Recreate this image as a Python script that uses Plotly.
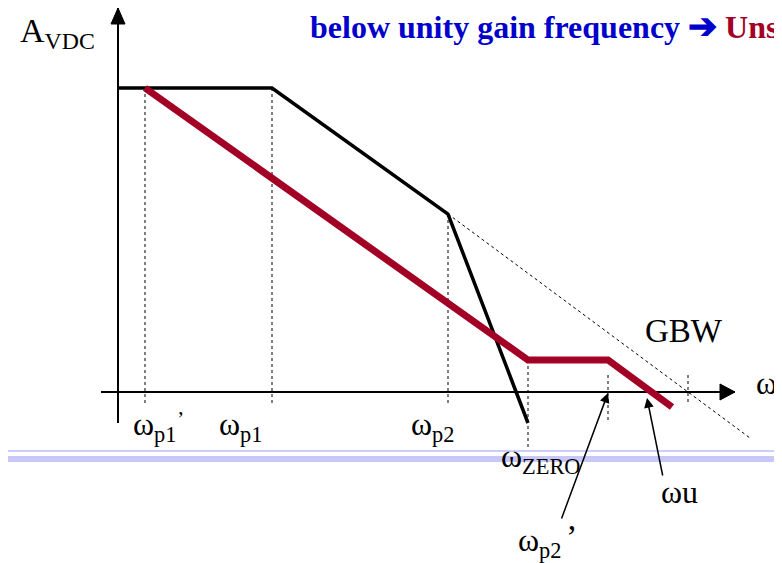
import plotly.graph_objects as go

# ---- diagram coordinates: origin at axes crossing, ω to the right, gain upward ----
# break frequencies along the ω axis
freq_names = ["wp1'", "wp1", "wp2", "wzero", "wp2'", "gbw"]
freq_pos = [27, 154, 330, 410, 490, 570]
# dotted drop lines (top gain, bottom gain) for each break frequency
drop_top = [304, 304, 178, 32, 17, 17]
drop_bot = [-13, -13, -13, -60, -28, -13]

# original (uncompensated) response - black
orig_w = [0, 154, 330, 410]
orig_gain = [304, 304, 178, -31]

# compensated response with RHP zero - red
comp_w = [27, 410, 490, 554]
comp_gain = [304, 32, 32, -15]

# GBW asymptote - dotted
gbw_w = [330, 632]
gbw_gain = [178, -46]

# axes extents
x_axis_span = [-17, 617]
y_axis_span = [-31, 384]

# page body has an 8px margin: figure is 774x555 and ranges are offset so that
# the diagram lands where the reference puts it
X_RANGE = [-110, 664]
Y_RANGE = [-171, 384]

BLACK = "#000000"
RED = "#A30026"
BLUE = "#0000CC"
LAV = "#CCCCFF"
SERIF = "Liberation Serif, Times New Roman, serif"

fig = go.Figure()

# separator lines (slide decoration)
fig.add_shape(type="line", xref="paper", x0=0, x1=1, yref="y", y0=-59, y1=-59,
              line=dict(color=LAV, width=2))
fig.add_shape(type="line", xref="paper", x0=0, x1=1, yref="y", y0=-67, y1=-67,
              line=dict(color="#C8C8F8", width=6))

# dotted drop lines
dx, dy = [], []
for p, t, b in zip(freq_pos, drop_top, drop_bot):
    dx += [p, p, None]
    dy += [t, b, None]
fig.add_trace(go.Scatter(x=dx, y=dy, mode="lines",
                         line=dict(color=BLACK, width=1, dash="dot"), hoverinfo="skip"))
# GBW asymptote
fig.add_trace(go.Scatter(x=gbw_w, y=gbw_gain, mode="lines",
                         line=dict(color=BLACK, width=1, dash="dot"), hoverinfo="skip"))

# axes
fig.add_trace(go.Scatter(x=x_axis_span, y=[0, 0], mode="lines",
                         line=dict(color=BLACK, width=2), hoverinfo="skip"))
fig.add_trace(go.Scatter(x=[0, 0], y=y_axis_span, mode="lines",
                         line=dict(color=BLACK, width=2), hoverinfo="skip"))
# arrow heads
xt = x_axis_span[1]
fig.add_trace(go.Scatter(x=[xt, xt - 15, xt - 15, xt], y=[0, 8, -8, 0], mode="lines",
                         fill="toself", fillcolor=BLACK, line=dict(color=BLACK, width=1),
                         hoverinfo="skip"))
yt = y_axis_span[1]
fig.add_trace(go.Scatter(x=[0, -7, 7, 0], y=[yt, yt - 16, yt - 16, yt], mode="lines",
                         fill="toself", fillcolor=BLACK, line=dict(color=BLACK, width=1),
                         hoverinfo="skip"))

# original response
fig.add_trace(go.Scatter(x=orig_w, y=orig_gain, mode="lines",
                         line=dict(color=BLACK, width=3.5), hoverinfo="skip"))
# compensated response
fig.add_trace(go.Scatter(x=comp_w, y=comp_gain, mode="lines",
                         line=dict(color=RED, width=7), hoverinfo="skip"))

ann = []
def txt(x, y, s, size=32, xa="left", ya="middle", color=BLACK):
    ann.append(dict(x=x, y=y, xref="x", yref="y", text=s, showarrow=False,
                    xanchor=xa, yanchor=ya,
                    font=dict(family=SERIF, size=size, color=color)))

txt(-100, 359, "A<sub>VDC</sub>", size=34)
txt(190, 366, "<b>below unity gain frequency <span style='color:%s;font-size:35px'>➔</span>"
              " <span style='color:%s'>Unstable</span></b>" % (BLUE, RED),
    size=32, color=BLUE)
txt(566, 61, "GBW", size=33, xa="center")
txt(636, 9, "ω", size=32)
txt(13, -12, "ω<sub>p1</sub>", size=32, ya="top")
txt(62, -12, "’", size=22, xa="center", ya="top")
txt(99, -12, "ω<sub>p1</sub>", size=32, ya="top")
txt(291, -12, "ω<sub>p2</sub>", size=32, ya="top")
txt(381, -44, "ω<sub>ZERO</sub>", size=32, ya="top")
txt(541, -80, "ωu", size=32, ya="top")
txt(398, -128, "ω<sub>p2</sub>", size=32, ya="top")
txt(453, -124, "’", size=34, xa="center", ya="top")

# pointer arrows
for tip, tail in [((490, -1), (443, -128)), ((529, -6), (545, -85))]:
    ann.append(dict(x=tip[0], y=tip[1], ax=tail[0], ay=tail[1], xref="x", yref="y",
                    axref="x", ayref="y", text="", showarrow=True, arrowhead=2,
                    arrowsize=1.3, arrowwidth=1.5, arrowcolor=BLACK))

fig.update_layout(
    width=774, height=555, margin=dict(l=0, r=0, t=0, b=0),
    paper_bgcolor="white", plot_bgcolor="white", showlegend=False,
    xaxis=dict(range=X_RANGE, visible=False, fixedrange=True),
    yaxis=dict(range=Y_RANGE, visible=False, fixedrange=True),
    annotations=ann,
)
fig.write_html("out.html")
